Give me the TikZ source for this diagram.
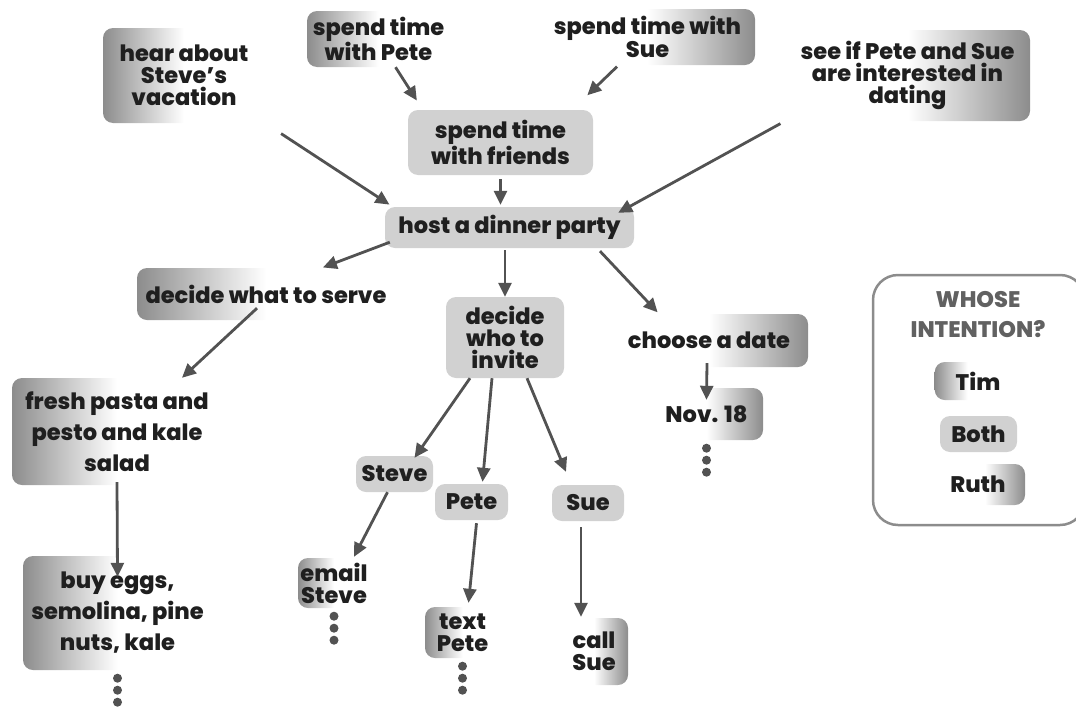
\documentclass[tikz,border=0pt]{standalone}
\usepackage{fontspec}
\setmainfont{Poppins}[BoldFont={* ExtraBold}]
\usetikzlibrary{arrows.meta}

\begin{document}
\begin{tikzpicture}[x=1pt,y=-1pt,
    every node/.style={font=\bfseries\fontsize{22.5}{22}\selectfont,text=black!88,align=center,inner sep=0pt},
    roundbox/.style={rounded corners=10pt},
    timbox/.style={roundbox,left color=black!45,right color=white,middle color=white},
    bothbox/.style={roundbox,fill=black!18},
    ruthbox/.style={roundbox,left color=white,right color=black!45,middle color=white},
    loose/.style={font=\bfseries\fontsize{22.5}{31}\selectfont},
    link/.style={draw=black!68,line width=2.8pt,-{Triangle[length=14pt,width=13pt]}},
    moredots/.style={fill=black!68}]
    \useasboundingbox (0,0) rectangle (1076,707);

    \node[timbox,minimum width=162pt,minimum height=95pt] (hear) at (184,75.5) {hear about\\Steve's\\vacation};
    \node[timbox,minimum width=143pt,minimum height=56pt] (spendPete) at (378.5,39) {spend time\\with Pete};
    \node[ruthbox,minimum width=215pt,minimum height=56pt] (spendSue) at (647.5,37) {spend time with\\Sue};
    \node[ruthbox,minimum width=245pt,minimum height=91pt] (seeif) at (907.5,75.5) {see if Pete and Sue\\are interested in\\dating};
    \node[bothbox,minimum width=185pt,minimum height=65pt] (friends) at (500.5,142.5) {spend time\\with friends};
    \node[bothbox,minimum width=249pt,minimum height=41pt] (host) at (509.5,227.5) {host a dinner party};
    \node[timbox,minimum width=258pt,minimum height=52pt] (serve) at (266,294) {decide what to serve};
    \node[bothbox,minimum width=118pt,minimum height=81pt] (invite) at (505,337.5) {decide\\who to\\invite};
    \node[ruthbox,minimum width=198pt,minimum height=53pt] (date) at (709,340.5) {choose a date};
    \node[ruthbox,minimum width=113pt,minimum height=52pt] (nov) at (706.5,414) {Nov. 18};
    \node[timbox,loose,minimum width=210pt,minimum height=107pt] (pasta) at (117,431.5) {fresh pasta and\\pesto and kale\\salad};
    \node[timbox,loose,minimum width=189pt,minimum height=114pt] (buy) at (117.5,613) {buy eggs,\\semolina, pine\\nuts, kale};
    \node[bothbox,minimum width=77pt,minimum height=36pt] (steve) at (394.5,474) {Steve};
    \node[bothbox,minimum width=73pt,minimum height=36pt] (pete) at (471.5,502) {Pete};
    \node[bothbox,minimum width=72pt,minimum height=36pt] (sue) at (588,503) {Sue};
    \node[timbox,minimum width=72pt,minimum height=50pt] (email) at (334,583) {email\\Steve};
    \node[timbox,minimum width=75pt,minimum height=51pt] (textPete) at (462.5,632.5) {text\\Pete};
    \node[ruthbox,minimum width=68pt,minimum height=67pt] (callSue) at (594,651.5) {call\\Sue};

    \draw[link,shorten <=19pt,shorten >=4pt] (hear.south east) -- ([xshift=8pt]host.north west);
    \draw[link,shorten >=11pt] ([xshift=17pt]spendPete.south) -- ([xshift=15pt]friends.north west);
    \draw[link,shorten <=2pt,shorten >=21pt] ([xshift=-29pt]spendSue.south) -- ([xshift=-21pt]friends.north east);
    \draw[link,shorten <=4pt,shorten >=2pt] (friends.south) -- (friends.south |- host.north);
    \draw[link,shorten <=5pt] (seeif.south west) -- ([xshift=-16pt,yshift=-6pt]host.north east);
    \draw[link,shorten >=1pt] ([xshift=5pt,yshift=6pt]host.south west) -- ([xshift=56pt]serve.north);
    \draw[link,shorten <=2pt] (invite.north |- host.south) -- (invite.north);
    \draw[link,shorten <=4pt,shorten >=2pt] ([xshift=-37pt]host.south east) -- ([xshift=-50pt]date.north);
    \draw[link] ([xshift=-9pt,yshift=12pt]serve.south) -- ([xshift=65pt]pasta.north);
    \draw[link] ([yshift=3pt]pasta.south) -- ([yshift=-21pt]buy.north);
    \draw[link] ([xshift=-35pt]invite.south) -- ([xshift=20pt,yshift=-2pt]steve.north);
    \draw[link] ([xshift=-13pt]invite.south) -- ([xshift=11pt,yshift=2pt]pete.north);
    \draw[link] ([xshift=22pt]invite.south) -- ([xshift=-22pt,yshift=13pt]sue.north);
    \draw[link] ([xshift=-7pt]steve.south) -- ([xshift=20pt,yshift=1pt]email.north);
    \draw[link] ([xshift=5pt,yshift=-3pt]pete.south) -- ([xshift=6pt,yshift=4pt]textPete.north);
    \draw[link,shorten >=1pt] ([xshift=-7pt,yshift=-6pt]sue.south) -- ([xshift=-7pt]sue.south |- callSue.north);
    \draw[link] ([xshift=-2pt,yshift=4pt]date.south) -- ([yshift=-12pt]nov.north);

    \foreach \n in {buy,email,textPete,nov}
        \foreach \d in {8,20,32}
            \fill[moredots] ([yshift=-\d pt]\n.south) circle (4.5pt);

    \node[draw=black!45,line width=2.5pt,rounded corners=25pt,minimum width=212pt,minimum height=250pt] (legend) at (979,400) {};
    \node[text=black!62] (whose) at (978,315) {WHOSE\\[8pt]INTENTION?};
    \node[timbox,minimum width=65pt,minimum height=38pt] (tim) at (967.5,381) {\hspace*{21pt}Tim};
    \node[bothbox,minimum width=77pt,minimum height=36pt] (both) at (978.5,434) {Both};
    \node[ruthbox,minimum width=80pt,minimum height=41pt] (ruth) at (985,484.5) {Ruth\hspace*{14pt}};
\end{tikzpicture}
\end{document}
